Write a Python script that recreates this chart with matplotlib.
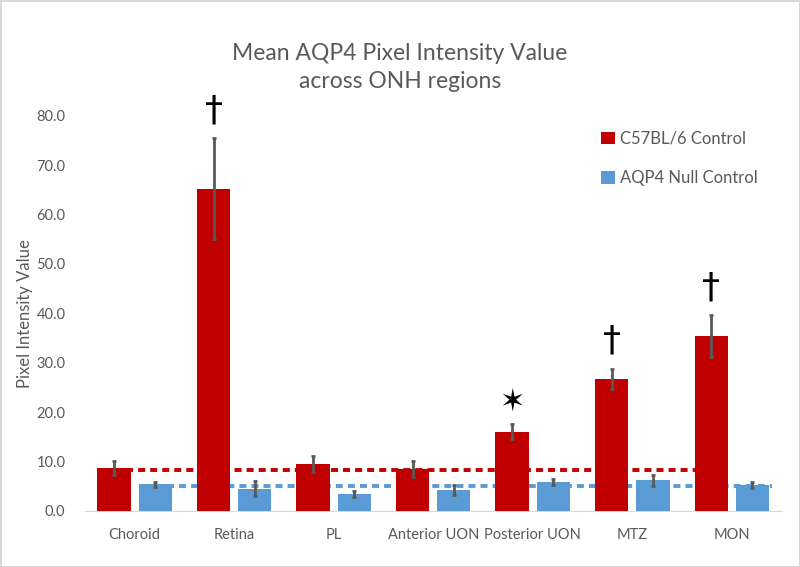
import matplotlib.pyplot as plt
import numpy as np

# Data
regions = ["Choroid", "Retina", "PL", "Anterior UON", "Posterior UON", "MTZ", "MON"]
wt_mean = [8.7, 65.2, 9.5, 8.45, 16.0, 26.7, 35.4]
wt_err = [1.35, 10.2, 1.6, 1.65, 1.55, 2.05, 4.2]
null_mean = [5.35, 4.45, 3.5, 4.3, 5.8, 6.15, 5.2]
null_err = [0.5, 1.5, 0.6, 1.0, 0.6, 1.1, 0.6]
wt_baseline = 8.3
null_baseline = 5.0
# significance markers above the C57BL/6 bars
marks = ["", "\u2020", "", "", "\u2736", "\u2020", "\u2020"]

red = "#C00000"
blue = "#5B9BD5"
text_gray = "#595959"
err_gray = "#595959"

plt.rcParams["font.family"] = ["Lato", "DejaVu Sans"]

fig = plt.figure(figsize=(8, 5.67), dpi=100)
fig.patch.set_edgecolor("#d9d9d9")
fig.patch.set_linewidth(2)
ax = fig.add_axes([0.106, 0.099, 0.871, 0.697])

x = np.arange(len(regions))
w = 0.335
off = 0.207

err_style = dict(ecolor=err_gray, elinewidth=2, capsize=1.5, capthick=2)
ax.bar(x - off, wt_mean, w, color=red, label="C57BL/6 Control", zorder=3,
       yerr=wt_err, error_kw=err_style)
ax.bar(x + off, null_mean, w, color=blue, label="AQP4 Null Control", zorder=3,
       yerr=null_err, error_kw=err_style)

# reference lines (drawn behind bars)
ax.plot([x[0] - off, x[-1] - off], [wt_baseline] * 2, color=red, lw=2.8,
        dashes=(1.8, 1.3), zorder=2)
ax.plot([x[0] + off, x[-1] + 0.4], [null_baseline] * 2, color=blue, lw=2.8,
        dashes=(1.8, 1.3), zorder=2)

for i, m in enumerate(marks):
    if not m:
        continue
    if m == "\u2020":
        ax.text(x[i] - off, wt_mean[i] + wt_err[i] + 2.2, m, ha="center",
                va="bottom", fontsize=26, color="black", family="DejaVu Sans",
                clip_on=False)
    else:
        ax.text(x[i] - off, wt_mean[i] + wt_err[i] + 1.6, m, ha="center",
                va="bottom", fontsize=22, color="black", family="DejaVu Sans",
                clip_on=False)

ax.set_xlim(-0.5, len(regions) - 0.5)
ax.set_ylim(0, 80)
ax.set_yticks(np.arange(0, 81, 10))
ax.set_yticklabels([f"{v:.1f}" for v in np.arange(0, 81, 10)])
ax.set_xticks(x)
ax.set_xticklabels(regions)
ax.tick_params(axis="both", length=0, colors=text_gray, labelsize=10.5)
ax.tick_params(axis="x", pad=12)
ax.tick_params(axis="y", pad=14)
for s in ["top", "right", "left"]:
    ax.spines[s].set_visible(False)
ax.spines["bottom"].set_color("#d9d9d9")

ax.set_ylabel("Pixel Intensity Value", color=text_gray, fontsize=12, labelpad=2)
fig.suptitle("Mean AQP4 Pixel Intensity Value\nacross ONH regions", color=text_gray,
             fontsize=16.5, y=0.925, linespacing=1.45)

leg = ax.legend(loc="upper left", bbox_to_anchor=(0.72, 1.0), frameon=False,
                fontsize=12, labelcolor=text_gray, handlelength=0.8,
                handleheight=0.8, labelspacing=1.4, handletextpad=0.3)

fig.savefig("out.png", dpi=100)
